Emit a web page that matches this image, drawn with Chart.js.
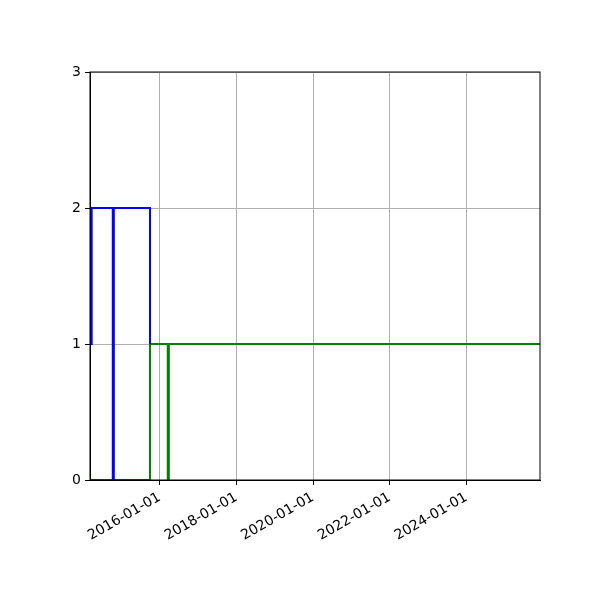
<!DOCTYPE html>
<html>
<head>
<meta charset="utf-8">
<script src="https://cdn.jsdelivr.net/npm/chart.js@4/dist/chart.umd.min.js"></script>
<style>
  html, body { margin: 0; padding: 0; background: #fff; }
  #wrap { width: 600px; height: 600px; }
</style>
</head>
<body>
<div id="wrap"><canvas id="chart" width="600" height="600"></canvas></div>
<script>
// step series, dates
const blueDates = ['2014-03-08', '2014-03-24', '2014-10-11', '2014-10-21', '2015-10-01'];
const blueValues = [1, 2, 0, 2, 1];
const greenDates = ['2014-03-08', '2015-10-01', '2016-03-18', '2016-03-28', '2025-12-03'];
const greenValues = [0, 1, 0, 1, 1];
const xTickDates = ['2016-01-01', '2018-01-01', '2020-01-01', '2022-01-01', '2024-01-01'];
const yTicks = [0, 1, 2, 3];
const xMinDate = '2014-03-08';
const xMaxDate = '2025-12-03';

const ms = d => Date.parse(d + 'T00:00:00Z');
const toPoints = (dates, vals) => dates.map((d, i) => ({ x: ms(d), y: vals[i] }));
const fmt = v => new Date(v).toISOString().slice(0, 10);

// box around the plot area, like matplotlib spines
const frame = {
  id: 'frame',
  afterDraw(chart) {
    const { ctx, chartArea: a } = chart;
    ctx.save();
    ctx.strokeStyle = '#000';
    ctx.lineWidth = 1;
    ctx.strokeRect(a.left, a.top, a.right - a.left, a.bottom - a.top);
    ctx.restore();
  }
};

new Chart(document.getElementById('chart'), {
  type: 'line',
  data: {
    datasets: [
      {
        data: toPoints(blueDates, blueValues),
        borderColor: '#0000ff',
        borderWidth: 2,
        stepped: true,
        pointRadius: 0,
        fill: false
      },
      {
        data: toPoints(greenDates, greenValues),
        borderColor: '#008000',
        borderWidth: 2,
        stepped: true,
        pointRadius: 0,
        fill: false
      }
    ]
  },
  options: {
    responsive: false,
    animation: false,
    layout: { padding: { left: 0, top: 72, right: 60, bottom: 0 } },
    plugins: { legend: { display: false }, tooltip: { enabled: false } },
    scales: {
      x: {
        type: 'linear',
        min: ms(xMinDate),
        max: ms(xMaxDate),
        afterBuildTicks: s => { s.ticks = xTickDates.map(d => ({ value: ms(d) })); },
        afterFit: s => { s.height = 120; },
        ticks: {
          autoSkip: false,
          minRotation: 30,
          maxRotation: 30,
          color: '#000',
          padding: 4,
          font: { family: 'DejaVu Sans', size: 14 },
          callback: v => fmt(v)
        },
        grid: { color: '#b0b0b0', lineWidth: 1, tickColor: '#000', tickLength: 5 },
        border: { color: '#000', width: 1 }
      },
      y: {
        type: 'linear',
        min: 0,
        max: 3,
        afterBuildTicks: s => { s.ticks = yTicks.map(v => ({ value: v })); },
        afterFit: s => { s.width = 90; },
        ticks: {
          color: '#000',
          padding: 4,
          font: { family: 'DejaVu Sans', size: 14 }
        },
        grid: { color: '#b0b0b0', lineWidth: 1, tickColor: '#000', tickLength: 5 },
        border: { color: '#000', width: 1 }
      }
    }
  },
  plugins: [frame]
});
</script>
</body>
</html>
